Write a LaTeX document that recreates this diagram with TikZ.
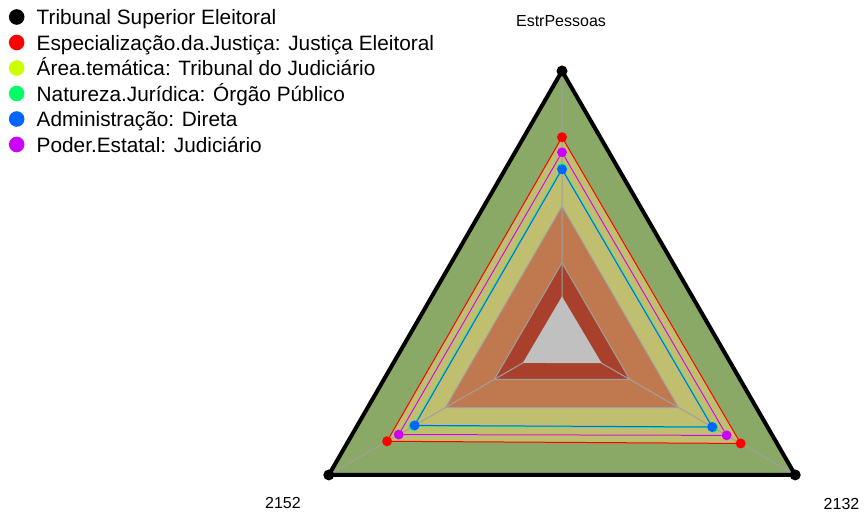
\documentclass[tikz,border=0pt]{standalone}
\usepackage{fontspec}
\setmainfont{Liberation Sans}
\usetikzlibrary{calc}
\definecolor{ringgreen}{RGB}{138,168,102}
\definecolor{ringkhaki}{RGB}{192,191,112}
\definecolor{ringorange}{RGB}{192,121,78}
\definecolor{ringdark}{RGB}{168,64,44}
\definecolor{ringgray}{RGB}{192,192,192}
\definecolor{gridgray}{RGB}{160,160,160}
\definecolor{sred}{HTML}{FF0000}
\definecolor{syel}{HTML}{CCFF00}
\definecolor{sgrn}{HTML}{00FF66}
\definecolor{sblu}{HTML}{0066FF}
\definecolor{spur}{HTML}{CC00FF}
\tikzset{
  legtext/.style={anchor=base west,inner sep=0pt,font=\fontsize{20.8}{22}\selectfont},
  axlabel/.style={anchor=base,inner sep=0pt,font=\fontsize{16}{18}\selectfont},
  ring/.style={fill=#1,draw=gridgray,line width=1pt,line join=miter},
  serie/.style={draw=#1,line width=1pt,line join=miter},
  sdot/.style={fill=#1},
}
\begin{document}
\begin{tikzpicture}[x=1pt,y=1pt]
\useasboundingbox (0,0) rectangle (864,514);
\coordinate (C) at (562,173.7);
\def\R{269.3}
\foreach \n/\a/\b/\c in {blk/1/1/1, red/0.754/0.75/0.766, yel/0.698/0.70/0.706,
  grn/0.640/0.637/0.648, blu/0.635/0.632/0.644, pur/0.698/0.70/0.706,
  ora/0.497/0.50/0.50, drk/0.288/0.29/0.29, gry/0.163/0.168/0.17}{
  \coordinate (\n-t) at ($(C)+(90:{\a*\R})$);
  \coordinate (\n-l) at ($(C)+(210:{\b*\R})$);
  \coordinate (\n-r) at ($(C)+(330:{\c*\R})$);
}
% rings
\fill[ringgreen] (blk-t)--(blk-l)--(blk-r)--cycle;
\fill[ringkhaki] (red-t)--(red-l)--(red-r)--cycle;
\path[ring=ringorange] (ora-t)--(ora-l)--(ora-r)--cycle;
\path[ring=ringdark] (drk-t)--(drk-l)--(drk-r)--cycle;
% spokes
\draw[gridgray,line width=1pt] (C)--(blk-t) (C)--(blk-l) (C)--(blk-r);
% centre
\fill[ringgray] (gry-t)--(gry-l)--(gry-r)--cycle;
% series
\draw[black,line width=4pt,line join=miter] (blk-t)--(blk-l)--(blk-r)--cycle;
\foreach \n/\col in {red/sred, yel/syel, grn/sgrn, blu/sblu, pur/spur}{
  \draw[serie=\col] (\n-t)--(\n-l)--(\n-r)--cycle;
}
\foreach \v in {t,l,r}{
  \fill[black] (blk-\v) circle (5.5);
}
\foreach \n/\col in {red/sred, yel/syel, grn/sgrn, blu/sblu, pur/spur}{
  \foreach \v in {t,l,r}{
    \fill[sdot=\col] (\n-\v) circle (5);
  }
}
% axis labels
\node[axlabel] (labtop) at (561,487.3) {EstrPessoas};
\node[axlabel] (lableft) at (283,6) {2152};
\node[axlabel] (labright) at (841.5,5) {2132};
% legend
\foreach \i/\col/\txt in {0/black/Tribunal Superior Eleitoral,
  1/sred/Especialização.da.Justiça: Justiça Eleitoral,
  2/syel/Área.temática: Tribunal do Judiciário,
  3/sgrn/Natureza.Jurídica: Órgão Público,
  4/sblu/Administração: Direta,
  5/spur/Poder.Estatal: Judiciário}{
  \fill[\col] (16.7,{514-17-25.5*\i}) circle (7.8);
  \node[legtext] (leg\i) at (36.5,{514-25-25.5*\i}) {\txt};
}
\end{tikzpicture}
\end{document}
